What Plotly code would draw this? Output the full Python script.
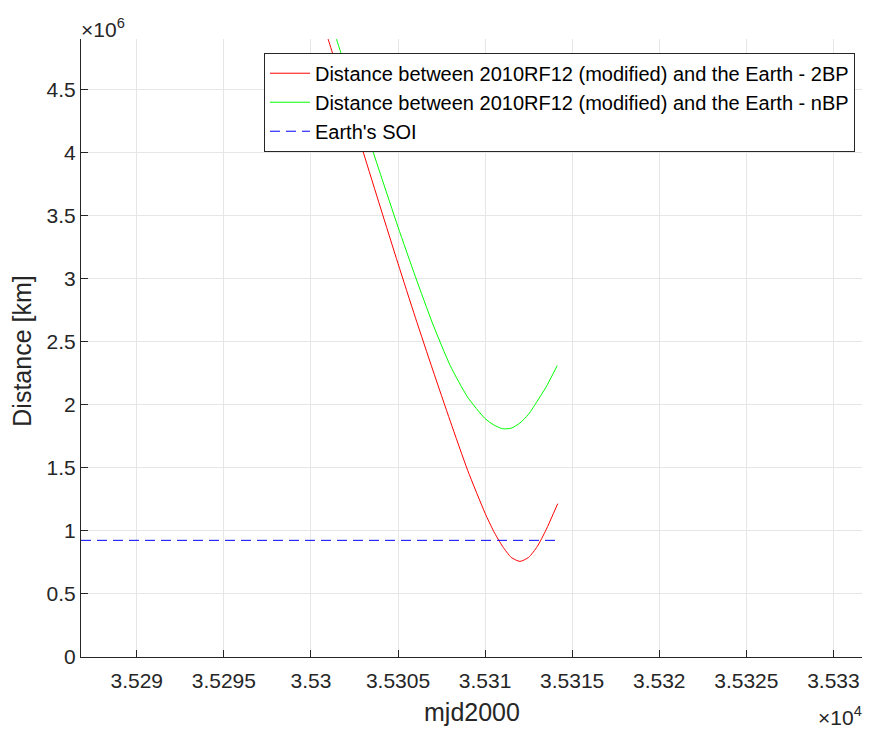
import plotly.graph_objects as go

# Data
t_2bp = [35300.5, 35301.0, 35302.0, 35303.0, 35304.0, 35305.0, 35306.0, 35307.0, 35308.0,
         35309.0, 35310.0, 35310.5, 35311.0, 35311.5, 35312.0, 35312.5, 35313.0, 35313.5, 35314.17]
d_2bp = [5.11e6, 4.894e6, 4.45e6, 4.005e6, 3.56e6, 3.12e6, 2.69e6, 2.275e6, 1.87e6,
         1.48e6, 1.14e6, 0.995e6, 0.878e6, 0.790e6, 0.758e6, 0.790e6, 0.877e6, 1.008e6, 1.216e6]

t_nbp = [35301.0, 35301.48, 35302.0, 35303.0, 35304.0, 35305.0, 35306.0, 35307.0, 35308.0,
         35309.0, 35310.0, 35310.5, 35311.0, 35311.5, 35312.0, 35312.5, 35313.0,
         35313.5, 35314.14]
d_nbp = [5.10e6, 4.894e6, 4.67e6, 4.245e6, 3.825e6, 3.41e6, 3.015e6, 2.64e6, 2.31e6,
         2.06e6, 1.89e6, 1.840e6, 1.810e6, 1.814e6, 1.855e6, 1.925e6, 2.03e6,
         2.14e6, 2.31e6]

t_soi = [35286.8, 35314.17]
d_soi = [0.925e6, 0.925e6]

x_tickvals = [35290, 35295, 35300, 35305, 35310, 35315, 35320, 35325, 35330]
x_ticktext = ["3.529", "3.5295", "3.53", "3.5305", "3.531", "3.5315", "3.532", "3.5325", "3.533"]
y_tickvals = [0, 0.5e6, 1e6, 1.5e6, 2e6, 2.5e6, 3e6, 3.5e6, 4e6, 4.5e6]
y_ticktext = ["0", "0.5", "1", "1.5", "2", "2.5", "3", "3.5", "4", "4.5"]

FONT = "Liberation Sans, Arial, Helvetica, sans-serif"
TXT = "#262626"

fig = go.Figure()
fig.add_trace(go.Scatter(x=t_2bp, y=d_2bp, mode="lines",
                         line=dict(color="#ff0000", width=1, shape="spline", smoothing=0.6),
                         name="Distance between 2010RF12 (modified) and the Earth - 2BP"))
fig.add_trace(go.Scatter(x=t_nbp, y=d_nbp, mode="lines",
                         line=dict(color="#00ff00", width=1, shape="spline", smoothing=0.6),
                         name="Distance between 2010RF12 (modified) and the Earth - nBP"))
fig.add_trace(go.Scatter(x=t_soi, y=d_soi, mode="lines",
                         line=dict(color="#0000ff", width=1, dash="10px,6px"),
                         name="Earth's SOI"))

fig.update_layout(
    width=872, height=730,
    margin=dict(l=81, r=10, t=39, b=73),
    paper_bgcolor="white", plot_bgcolor="white",
    font=dict(family=FONT, color=TXT, size=21),
    showlegend=True,
    legend=dict(x=0.991, y=0.9778, xanchor="right", yanchor="top",
                bgcolor="white", bordercolor="#262626", borderwidth=1,
                itemwidth=40,
                font=dict(family=FONT, size=20, color="black")),
    xaxis=dict(range=[35286.8, 35331.64], tickvals=x_tickvals, ticktext=x_ticktext,
               showgrid=True, gridcolor="#e6e6e6", gridwidth=1,
               showline=True, linecolor="#262626", linewidth=1,
               ticks="inside", ticklen=7, tickcolor="#262626",
               zeroline=False, mirror=False, ticklabelstandoff=5,
               tickfont=dict(family=FONT, size=21, color=TXT)),
    yaxis=dict(range=[0, 4.90e6], tickvals=y_tickvals, ticktext=y_ticktext,
               showgrid=True, gridcolor="#e6e6e6", gridwidth=1,
               showline=True, linecolor="#262626", linewidth=1,
               ticks="inside", ticklen=7, tickcolor="#262626",
               zeroline=False, mirror=False,
               tickfont=dict(family=FONT, size=21, color=TXT)),
)

# axis titles
fig.add_annotation(xref="paper", yref="paper", x=0.5, y=0.0, xanchor="center", yanchor="middle",
                   text="mjd2000", showarrow=False, font=dict(family=FONT, size=25, color=TXT),
                   yshift=-55)
fig.add_annotation(xref="paper", yref="paper", x=0.0, y=0.494, xanchor="center", yanchor="middle",
                   text="Distance [km]", textangle=-90, showarrow=False,
                   font=dict(family=FONT, size=25, color=TXT), xshift=-59)

# exponent labels
fig.add_annotation(xref="paper", yref="paper", x=0.0, y=1.0, xanchor="left", yanchor="bottom",
                   text="×10<sup>6</sup>", showarrow=False, font=dict(family=FONT, size=21, color=TXT),
                   xshift=-2, yshift=-4)
fig.add_annotation(xref="paper", yref="paper", x=1.0, y=0.0, xanchor="right", yanchor="top",
                   text="×10<sup>4</sup>", showarrow=False, font=dict(family=FONT, size=21, color=TXT),
                   xshift=2, yshift=-44)

fig.write_html("out.html")
